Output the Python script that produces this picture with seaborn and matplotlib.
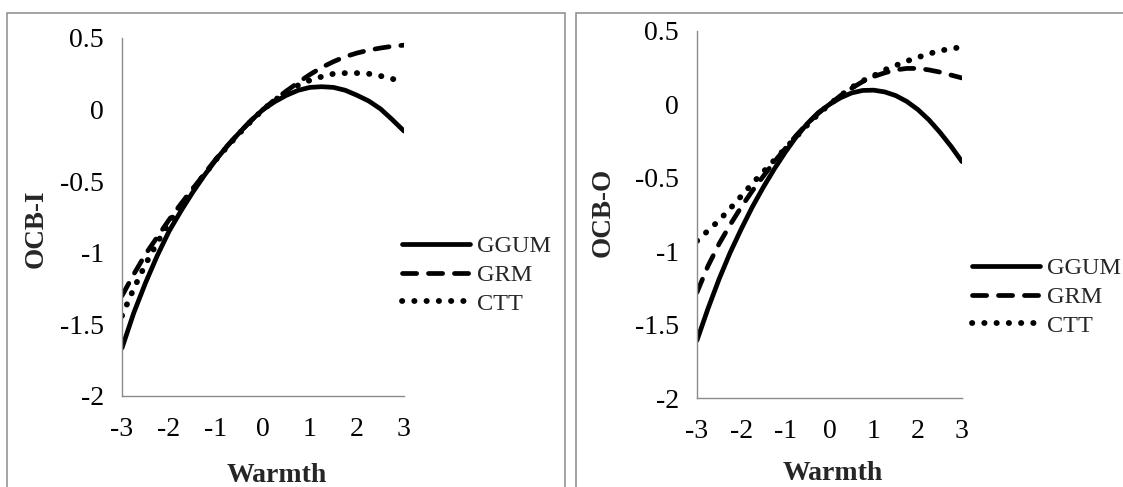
import matplotlib
matplotlib.use("Agg")
import matplotlib.pyplot as plt
from matplotlib.patches import Rectangle
import pandas as pd
import seaborn as sns

# values
warmth = [-3, -2.75, -2.5, -2.25, -2, -1.75, -1.5, -1.25, -1, -0.75, -0.5, -0.25, 0,
          0.25, 0.5, 0.75, 1, 1.25, 1.5, 1.75, 2, 2.25, 2.5, 2.75, 3]

ocbi_ggum = [-1.665, -1.42, -1.21, -1.02, -0.85, -0.71, -0.58, -0.46, -0.35, -0.25, -0.16, -0.075, 0,
             0.055, 0.10, 0.135, 0.155, 0.16, 0.155, 0.135, 0.10, 0.06, 0.005, -0.07, -0.15]
ocbi_grm = [-1.30, -1.15, -1.01, -0.89, -0.77, -0.66, -0.555, -0.45, -0.345, -0.25, -0.16, -0.075, 0,
            0.07, 0.13, 0.19, 0.245, 0.295, 0.335, 0.37, 0.395, 0.415, 0.43, 0.442, 0.45]
ocbi_ctt = [-1.44, -1.25, -1.08, -0.93, -0.79, -0.67, -0.56, -0.455, -0.35, -0.255, -0.165, -0.08, 0,
            0.065, 0.125, 0.17, 0.205, 0.23, 0.25, 0.255, 0.255, 0.25, 0.235, 0.215, 0.19]

ocbo_ggum = [-1.607, -1.39, -1.19, -1.01, -0.85, -0.70, -0.565, -0.44, -0.325, -0.22, -0.13, -0.055, 0,
             0.045, 0.078, 0.095, 0.097, 0.085, 0.06, 0.02, -0.035, -0.105, -0.19, -0.285, -0.39]
ocbo_grm = [-1.28, -1.10, -0.95, -0.82, -0.70, -0.59, -0.49, -0.39, -0.30, -0.21, -0.13, -0.06, 0,
            0.06, 0.11, 0.155, 0.19, 0.215, 0.235, 0.245, 0.245, 0.235, 0.22, 0.20, 0.18]
ocbo_ctt = [-0.93, -0.86, -0.79, -0.71, -0.625, -0.54, -0.46, -0.38, -0.30, -0.22, -0.14, -0.065, 0,
            0.06, 0.115, 0.16, 0.195, 0.235, 0.265, 0.295, 0.32, 0.345, 0.365, 0.38, 0.39]

models = ["GGUM", "GRM", "CTT"]
xticks = [-3, -2, -1, 0, 1, 2, 3]
xtick_labels = ["-3", "-2", "-1", "0", "1", "2", "3"]
yticks = [0.5, 0, -0.5, -1, -1.5, -2]
ytick_labels = ["0.5", "0", "-0.5", "-1", "-1.5", "-2"]

sns.set_style("white")
plt.rcParams["font.family"] = ["Liberation Serif", "DejaVu Serif"]

W, H = 1123, 487
fig = plt.figure(figsize=(W / 100, H / 100), dpi=100)

# panel frames
grey = "#8a8a8a"
fig.add_artist(Rectangle((7 / W, -0.1), (565 - 7) / W, 1.1 - 13 / H, transform=fig.transFigure,
                         fill=False, edgecolor=grey, lw=1.1))
fig.add_artist(Rectangle((576 / W, -0.1), 0.6, 1.1 - 13 / H, transform=fig.transFigure,
                         fill=False, edgecolor=grey, lw=1.1))

styles = {
    "GGUM": dict(dashes=None, lw=3.4),
    "GRM": dict(dashes=(3.0, 2.5), lw=3.4),
    "CTT": dict(dashes=(0.05, 2.05), lw=4.2),
}

panels = [
    dict(box=(122, 404, 38, 396), series=[ocbi_ggum, ocbi_grm, ocbi_ctt], ylabel="OCB-I",
         ylab=(-0.305, 0.4665), xlab=(0.55, -0.240), leg=(402, 275)),
    dict(box=(697, 962, 31, 398), series=[ocbo_ggum, ocbo_grm, ocbo_ctt], ylabel="OCB-O",
         ylab=(-0.355, 0.507), xlab=(0.513, -0.2234), leg=(972, 297)),
]

for p in panels:
    x0, x1, y0, y1 = p["box"]
    ax = fig.add_axes([x0 / W, 1 - y1 / H, (x1 - x0) / W, (y1 - y0) / H])
    ax.patch.set_alpha(0)
    for name, vals in zip(models, p["series"]):
        df = pd.DataFrame({"Warmth": warmth, "value": vals})
        st = styles[name]
        sns.lineplot(data=df, x="Warmth", y="value", ax=ax, color="black",
                     lw=st["lw"], label=name)
        line = ax.lines[-1]
        if st["dashes"] is not None:
            line.set_dashes(st["dashes"])
        line.set_dash_capstyle("round")
        line.set_solid_capstyle("round")

    ax.set_xlim(-3, 3)
    ax.set_ylim(-2, 0.5)
    ax.set_xticks(xticks)
    ax.set_xticklabels(xtick_labels)
    ax.set_yticks(yticks)
    ax.set_yticklabels(ytick_labels)
    ax.tick_params(axis="both", direction="out", length=6, width=1, color=grey,
                   labelsize=20, labelcolor="black")
    ax.tick_params(axis="x", pad=9)
    ax.tick_params(axis="y", pad=7)
    for s in ["top", "right"]:
        ax.spines[s].set_visible(False)
    for s in ["left", "bottom"]:
        ax.spines[s].set_color(grey)
        ax.spines[s].set_linewidth(1)

    ax.set_ylabel(p["ylabel"], fontsize=19.5, fontweight="bold")
    ax.yaxis.label.set_verticalalignment("center")
    ax.yaxis.set_label_coords(*p["ylab"])
    ax.set_xlabel("Warmth", fontsize=20, fontweight="bold")
    ax.xaxis.label.set_verticalalignment("baseline")
    ax.xaxis.set_label_coords(*p["xlab"])

    lx, ly = p["leg"]
    ax.legend(loc="center left", bbox_to_anchor=(lx / W, 1 - ly / H),
              bbox_transform=fig.transFigure, frameon=False, fontsize=17.5,
              borderpad=0, borderaxespad=0, handlelength=2.8, handletextpad=0.3,
              labelspacing=0.28)

fig.savefig("out.png", dpi=100)
